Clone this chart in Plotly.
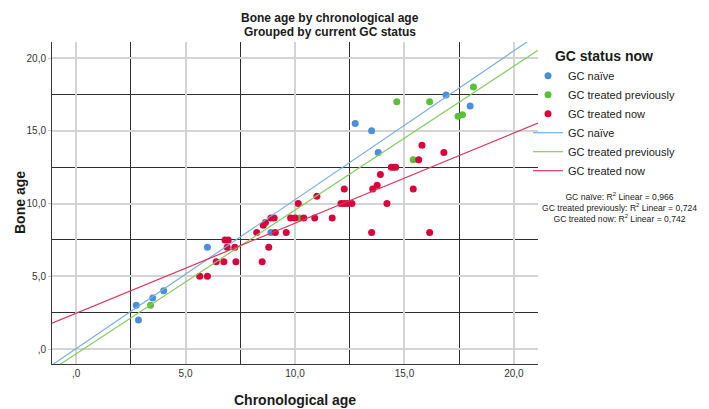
import numpy as np
import plotly.graph_objects as go

# ---- data ----
naive_x = [2.75, 2.85, 3.5, 4.0, 6.0, 8.9, 12.75, 13.5, 13.8, 16.9, 18.0]
naive_y = [3.0, 2.0, 3.5, 4.0, 7.0, 8.0, 15.5, 15.0, 13.5, 17.45, 16.7]

prev_x = [3.4, 10.2, 15.4, 14.65, 16.15, 17.45, 17.65, 18.15]
prev_y = [3.0, 9.0, 13.0, 17.0, 17.0, 16.0, 16.1, 18.0]

now_x = [5.65, 6.0, 6.4, 6.75, 7.3, 6.8, 6.95, 6.9, 7.25, 8.25, 8.5, 8.8, 8.55, 8.65,
         8.9, 9.05, 9.1, 9.6, 9.8, 10.0, 10.15, 10.4, 10.9, 11.0, 11.7, 12.25, 12.1,
         12.25, 12.4, 12.6, 13.5, 13.55, 13.75, 14.2, 13.9, 14.4, 14.5, 14.6, 15.65,
         15.8, 16.8, 15.4, 16.15]
now_y = [5.0, 5.0, 6.0, 6.0, 6.0, 7.5, 7.5, 7.0, 7.0, 8.0, 6.0, 7.0, 8.5, 8.7,
         9.0, 9.0, 8.0, 8.0, 9.0, 9.0, 10.0, 9.0, 9.0, 10.5, 9.0, 11.0, 10.0,
         10.0, 10.0, 10.0, 8.0, 11.0, 11.25, 10.0, 12.0, 12.5, 12.5, 12.5, 13.0,
         14.0, 13.5, 11.0, 8.0]

group_names = ["GC naïve", "GC treated previously", "GC treated now"]
r2_values = ["0,966", "0,724", "0,742"]

tick_vals = [0, 5, 10, 15, 20]
tick_text = [",0", "5,0", "10,0", "15,0", "20,0"]

x_range = [-1.1, 21.1]
y_range = [-1.03, 21.1]

dot_colors = ["#4A8FDB", "#5CBF3A", "#D6063C"]
line_colors = ["#78AEE3", "#86CC62", "#D7385C"]

groups = [(naive_x, naive_y), (prev_x, prev_y), (now_x, now_y)]

fig = go.Figure()

for (gx, gy), name, c in zip(groups, group_names, dot_colors):
    fig.add_trace(go.Scatter(
        x=gx, y=gy, mode="markers", name=name,
        marker=dict(color=c, size=7, line=dict(width=0)),
    ))

fit_x = np.array(x_range)
for (gx, gy), name, c in zip(groups, group_names, line_colors):
    slope, intercept = np.polyfit(gx, gy, 1)
    fig.add_trace(go.Scatter(
        x=fit_x, y=slope * fit_x + intercept, mode="lines", name=name,
        line=dict(color=c, width=1.2),
    ))

font_family = "Liberation Sans, Arial, sans-serif"

# page geometry: body has an 8px margin, plot area spans page x 52..538, y 42..364
PL, PR, PT, PB = 52, 538, 42, 364


def px_x(page_x):
    return (page_x - PL) / (PR - PL)


def px_y(page_y):
    return (PB - page_y) / (PB - PT)


axis_common = dict(
    tickvals=tick_vals, ticktext=tick_text,
    showgrid=True, gridcolor="#D4D4D4", gridwidth=1.5,
    zeroline=False,
    showline=True, linecolor="#3A3A3A", linewidth=1,
    tickfont=dict(size=10, color="#333333", family=font_family),
    minor=dict(tick0=0, dtick=2.5, showgrid=True, gridcolor="#2E2E2E",
               gridwidth=1, ticks=""),
)

fig.update_xaxes(range=x_range, ticks="", **axis_common)
fig.update_yaxes(range=y_range, ticks="outside", ticklen=3, tickcolor="#C8C8C8",
                 **axis_common)

dark = "#1a1a1a"
ann = [
    dict(text="<b>Bone age by chronological age</b>", x=px_x(330), y=px_y(18),
         font=dict(size=12, color=dark, family=font_family)),
    dict(text="<b>Grouped by current GC status</b>", x=px_x(330), y=px_y(32),
         font=dict(size=12, color=dark, family=font_family)),
    dict(text="<b>Chronological age</b>", x=px_x(295), y=px_y(400),
         font=dict(size=14, color=dark, family=font_family)),
    dict(text="<b>Bone age</b>", x=px_x(20), y=px_y(203), textangle=-90,
         font=dict(size=14, color=dark, family=font_family)),
]

r2_lines = [f"{n}: R<sup>2</sup> Linear = {v}" for n, v in zip(group_names, r2_values)]
ann.append(dict(text="<br>".join(r2_lines), x=px_x(619), y=px_y(207), align="center",
                font=dict(size=8.6, color="#222222", family=font_family)))

for a in ann:
    a.update(xref="paper", yref="paper", showarrow=False,
             xanchor="center", yanchor="middle")

fig.update_layout(
    width=701, height=401,
    margin=dict(l=PL - 8, r=709 - PR, t=PT - 8, b=409 - PB),
    paper_bgcolor="white", plot_bgcolor="white",
    font=dict(family=font_family, color="#222222"),
    annotations=ann,
    showlegend=True,
    legend=dict(
        title=dict(text="<b>GC status now</b>", side="top center",
                   font=dict(size=14, color=dark)),
        x=px_x(528), y=px_y(43), xanchor="left", yanchor="top",
        font=dict(size=11, color="#222222"),
        bgcolor="rgba(0,0,0,0)",
        itemwidth=30,
        tracegroupgap=0,
    ),
)

fig.write_html("out.html")
